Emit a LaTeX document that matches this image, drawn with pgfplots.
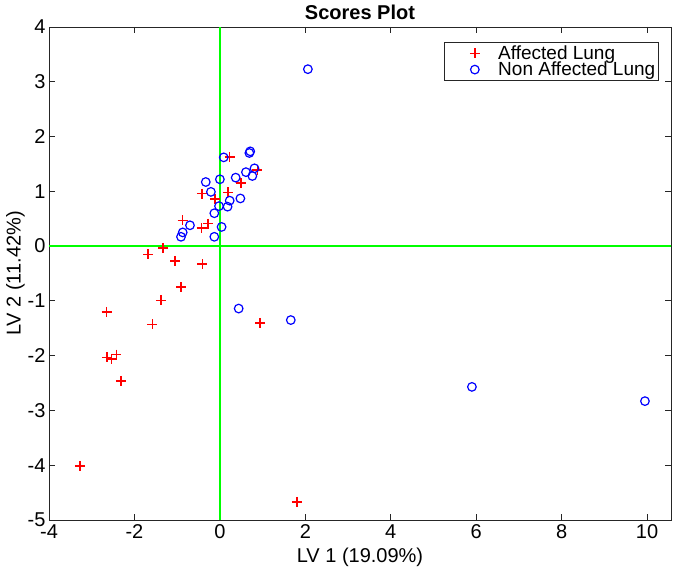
\documentclass[border=0pt]{standalone}
\usepackage{fontspec}
\setmainfont{Liberation Sans}
\usepackage{pgfplots}
\pgfplotsset{compat=1.18}
\definecolor{axgray}{rgb}{0.15,0.15,0.15}
\definecolor{pgreen}{rgb}{0,1,0}
\definecolor{pred}{rgb}{1,0,0}
\definecolor{pblue}{rgb}{0,0,1}
\begin{document}
\begin{tikzpicture}
\path[use as bounding box] (-49pt,-50pt) rectangle (626pt,520pt);
\begin{axis}[
  at={(0pt,0pt)}, anchor=south west,
  scale only axis, width=622pt, height=493pt,
  xmin=-4, xmax=10.56, ymin=-5, ymax=4,
  xtick={-4,-2,0,2,4,6,8,10}, ytick={-5,-4,-3,-2,-1,0,1,2,3,4},
  tick align=inside, major tick length=6pt,
  tick style={axgray, line width=0.8pt},
  axis line style={axgray, line width=0.9pt},
  font=\fontsize{20}{23}\selectfont,
  tick label style={font=\fontsize{20}{23}\selectfont, text=black},
  /pgf/number format/assume math mode=true,
  xticklabel style={yshift=-1pt},
  xlabel={LV 1 (19.09\%)}, ylabel={LV 2 (11.42\%)},
  xlabel style={yshift=-2pt},
  ylabel style={yshift=-4pt},
  title={\bfseries Scores Plot},
  title style={yshift=-2pt},
  legend style={at={(0.981,0.97)}, anchor=north east, draw=axgray, line width=0.8pt,
    font=\fontsize{19}{19}\selectfont, inner sep=1.5pt, row sep=-3pt,
    legend cell align=left},
  clip=false,
]
\addplot[color=pred, only marks, mark=+, mark size=5pt, line width=1.5pt,
  mark options={draw=pred, solid}, forget plot] coordinates {
(0.23,1.63) (0.88,1.39) (0.50,1.15) (-0.42,0.96) (0.19,0.98) (-0.11,0.86)
(-0.87,0.47) (-0.43,0.33) (-0.28,0.41) (-1.68,-0.15) (-1.33,-0.03)
(-1.05,-0.27) (-0.41,-0.33) (-0.91,-0.75) (-1.38,-0.99) (-1.58,-1.43)
(-2.65,-1.20) (-2.64,-2.03) (-2.54,-2.06) (-2.42,-1.98) (-2.32,-2.46)
(-3.28,-4.01) (0.94,-1.40) (1.80,-4.67)
};
\addplot[color=pblue, only marks, mark=o, mark size=4.3pt, line width=1.2pt,
  mark options={draw=pblue, solid}, forget plot] coordinates {
(0.09,1.62) (0.69,1.70) (0.71,1.73) (0.81,1.42) (0.61,1.35) (0.76,1.28)
(0.37,1.25) (0.00,1.22) (-0.33,1.17) (-0.21,0.99) (0.48,0.87) (0.23,0.83)
(0.18,0.72) (-0.02,0.73) (-0.13,0.60) (0.04,0.35) (-0.13,0.17) (-0.70,0.38)
(-0.87,0.25) (-0.91,0.17) (0.44,-1.14) (1.66,-1.35) (2.06,3.23)
(5.90,-2.57) (9.95,-2.83)
};
\addlegendimage{legend image code/.code={\path (0pt,-5pt) (50pt,5pt);
  \draw[pred, line width=1.5pt] plot[mark=+, mark size=5pt, mark options={draw=pred}] coordinates {(29pt,0pt)};}}
\addlegendentry{Affected Lung}
\addlegendimage{legend image code/.code={\path (0pt,-5pt) (50pt,5pt);
  \draw[pblue, line width=1.2pt] plot[mark=o, mark size=4.3pt, mark options={draw=pblue}] coordinates {(29pt,0pt)};}}
\addlegendentry{Non Affected Lung}
\addplot[draw=pgreen, line width=1.4pt, forget plot] coordinates {(-4,0) (10.56,0)};
\addplot[draw=pgreen, line width=1.4pt, forget plot] coordinates {(0.005,-5) (0.005,4)};
\end{axis}
\end{tikzpicture}
\end{document}
